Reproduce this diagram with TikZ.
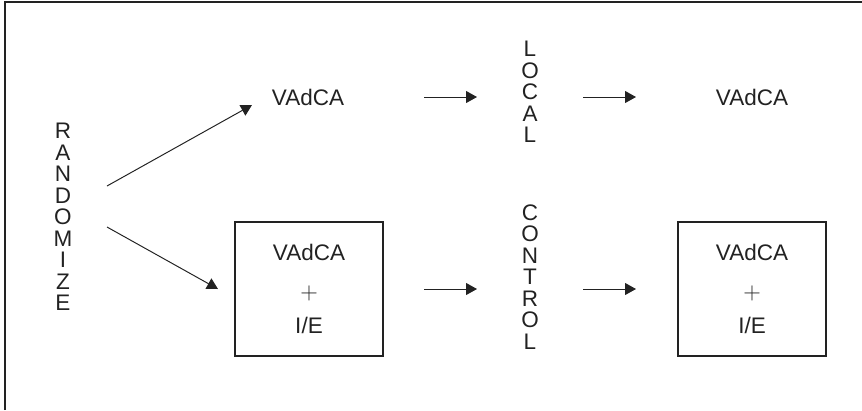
\documentclass[tikz,border=0pt]{standalone}
\usepackage{fontspec}
\setmainfont{Liberation Sans}
\usetikzlibrary{arrows.meta}
\definecolor{ink}{HTML}{222222}
\tikzset{
  lbl/.style={text=ink, font=\fontsize{16}{15.3}\selectfont, inner sep=0pt},
  vert/.style={lbl, align=center},
  arm/.style={draw=ink, line width=0.7pt, -{Triangle[length=7.8pt,width=8.5pt]}},
  arm box/.style={draw=ink, line width=1pt, minimum width=3.7cm, minimum height=3.35cm, lbl, align=center}
}

\begin{document}
\begin{tikzpicture} [x=0.025cm, y=-0.025cm]
\useasboundingbox (0,0) rectangle (862,410);
\draw[ink,line width=1.4pt] (5,410)--(5,2)--(862,2);
% labels
\node[vert] (rand) at (63,217) {R\\A\\N\\D\\O\\M\\I\\Z\\E};
\node[lbl] (top1) at (308,97) {VAdCA};
\node[arm box] (box1) at (309,289) {VAdCA\\[12pt]$+$\\[9pt]I/E};
\node[vert] (local) at (530,92) {L\\O\\C\\A\\L};
\node[vert] (control) at (530,277) {C\\O\\N\\T\\R\\O\\L};
\node[lbl] (top2) at (752,97) {VAdCA};
\node[arm box] (box2) at (752,289) {VAdCA\\[12pt]$+$\\[9pt]I/E};
% arrow ends
\coordinate (r1) at (107,186);
\coordinate (r2) at (107,227);
\coordinate (e1) at (252,105);
\coordinate (e2) at (218,289);
\foreach \y [count=\i] in {97,289} {
  \coordinate (p\i) at (424,\y);
  \coordinate (q\i) at (477,\y);
  \coordinate (s\i) at (583,\y);
  \coordinate (t\i) at (636,\y);
}
\draw[arm] (r1)--(e1);
\draw[arm] (r2)--(e2);
\foreach \i in {1,2} {
  \draw[arm] (p\i)--(q\i);
  \draw[arm] (s\i)--(t\i);
}
\end{tikzpicture}
\end{document}
